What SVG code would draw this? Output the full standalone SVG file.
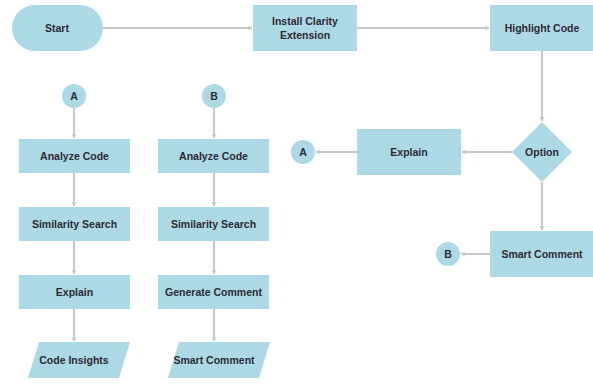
<svg xmlns="http://www.w3.org/2000/svg" width="593" height="384" viewBox="0 0 593 384">
<style>
.n{fill:#ADD8E6;stroke:none}
.t{font-family:"Liberation Sans",Arial,sans-serif;font-size:10.5px;font-weight:bold;fill:#2B2B36;text-anchor:middle;dominant-baseline:central}
.c{fill:none;stroke:#C4C9D0;stroke-width:2}
</style>
<defs>
<marker id="ah" viewBox="0 0 10 10" refX="9" refY="5" markerWidth="5" markerHeight="5" orient="auto" markerUnits="userSpaceOnUse">
<path d="M1,1 L9,5 L1,9" fill="none" stroke="#C4C9D0" stroke-width="2"/>
</marker>
</defs>
<rect width="593" height="384" fill="#fff"/>
<g id="connectors">
<path class="c" d="M103,28 H252" marker-end="url(#ah)"/>
<path class="c" d="M357,28 H489" marker-end="url(#ah)"/>
<path class="c" d="M542,51 V121" marker-end="url(#ah)"/>
<path class="c" d="M512,152 H462" marker-end="url(#ah)"/>
<path class="c" d="M357,152 H316" marker-end="url(#ah)"/>
<path class="c" d="M542,182 V230" marker-end="url(#ah)"/>
<path class="c" d="M490,254 H461" marker-end="url(#ah)"/>
<path class="c" d="M74,108 V138" marker-end="url(#ah)"/>
<path class="c" d="M74,173 V206" marker-end="url(#ah)"/>
<path class="c" d="M74,241 V274" marker-end="url(#ah)"/>
<path class="c" d="M74,309 V341" marker-end="url(#ah)"/>
<path class="c" d="M214,108 V138" marker-end="url(#ah)"/>
<path class="c" d="M214,173 V206" marker-end="url(#ah)"/>
<path class="c" d="M214,241 V274" marker-end="url(#ah)"/>
<path class="c" d="M214,309 V341" marker-end="url(#ah)"/>
</g>
<g id="start"><rect class="n" x="12" y="5" width="91" height="46" rx="23"/><text class="t" x="57" y="28">Start</text></g>
<g id="install"><rect class="n" x="253" y="5" width="104" height="46"/><text class="t" x="305" y="21">Install Clarity</text><text class="t" x="305" y="35">Extension</text></g>
<g id="highlight"><rect class="n" x="490" y="5" width="104" height="46"/><text class="t" x="542" y="28">Highlight Code</text></g>
<g id="option"><polygon class="n" points="542,122 572,152 542,182 512,152"/><text class="t" x="542" y="152">Option</text></g>
<g id="explain-main"><rect class="n" x="357" y="129" width="104" height="46"/><text class="t" x="409" y="152">Explain</text></g>
<g id="conn-a-right"><circle class="n" cx="303" cy="152" r="12"/><text class="t" x="303" y="152">A</text></g>
<g id="smart-comment-main"><rect class="n" x="490" y="231" width="104" height="46"/><text class="t" x="542" y="254">Smart Comment</text></g>
<g id="conn-b-right"><circle class="n" cx="448" cy="254" r="12"/><text class="t" x="448" y="254">B</text></g>
<g id="conn-a-left"><circle class="n" cx="74" cy="96" r="12"/><text class="t" x="74" y="96">A</text></g>
<g id="analyze-a"><rect class="n" x="19" y="139" width="111" height="34"/><text class="t" x="74.5" y="156">Analyze Code</text></g>
<g id="similarity-a"><rect class="n" x="19" y="207" width="111" height="34"/><text class="t" x="74.5" y="224">Similarity Search</text></g>
<g id="explain-a"><rect class="n" x="19" y="275" width="111" height="34"/><text class="t" x="74.5" y="292">Explain</text></g>
<g id="code-insights"><polygon class="n" points="39,342 130,342 119,378 28,378"/><text class="t" x="74" y="360">Code Insights</text></g>
<g id="conn-b-left"><circle class="n" cx="214" cy="96" r="12"/><text class="t" x="214" y="96">B</text></g>
<g id="analyze-b"><rect class="n" x="158" y="139" width="111" height="34"/><text class="t" x="213.5" y="156">Analyze Code</text></g>
<g id="similarity-b"><rect class="n" x="158" y="207" width="111" height="34"/><text class="t" x="213.5" y="224">Similarity Search</text></g>
<g id="generate-b"><rect class="n" x="158" y="275" width="111" height="34"/><text class="t" x="213.5" y="292">Generate Comment</text></g>
<g id="smart-comment-b"><polygon class="n" points="179,342 270,342 259,378 168,378"/><text class="t" x="214" y="360">Smart Comment</text></g>
</svg>
